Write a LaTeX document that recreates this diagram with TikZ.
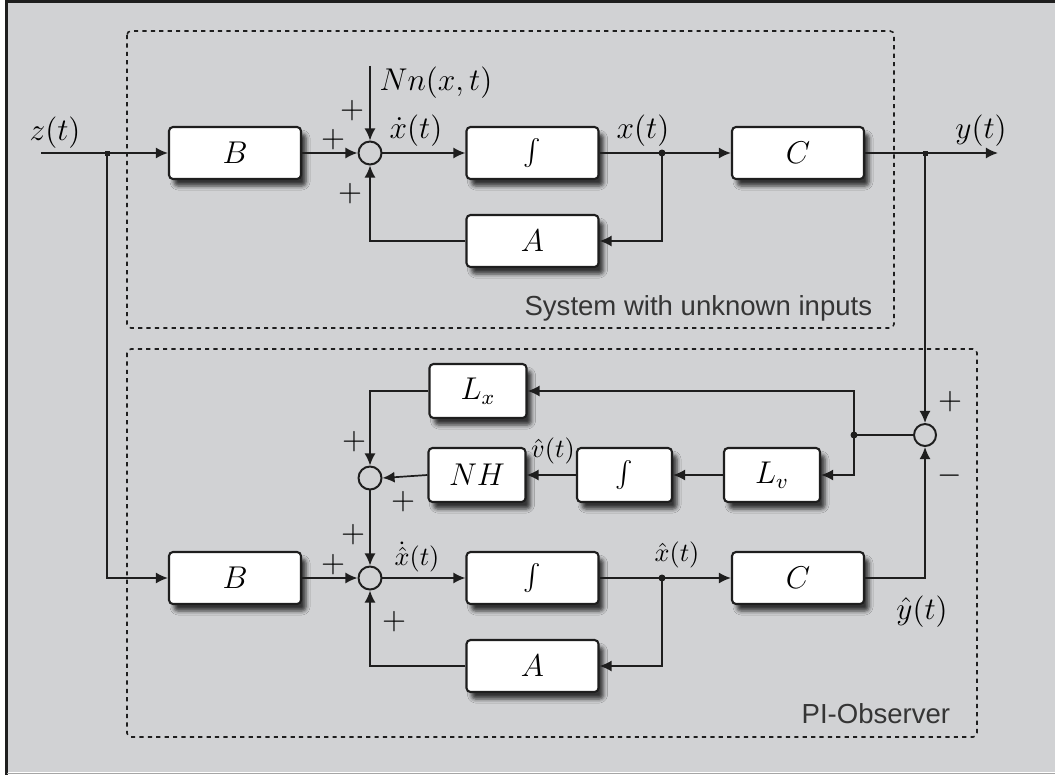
\documentclass[tikz,border=0pt]{standalone}
\usepackage{fontspec}
\newfontfamily\labelfont{Liberation Sans}
\usetikzlibrary{arrows.meta,shadows.blur}
\newlength{\pxu}\setlength{\pxu}{0.0134cm}
\definecolor{bggray}{HTML}{D1D2D4}
\definecolor{ink}{HTML}{1E1E1E}
\begin{document}
\begin{tikzpicture}[x=0.0134cm,y=-0.0134cm,
  font=\fontsize{11.5}{13}\selectfont,
  line width=0.65pt, draw=ink,
  >={Latex[length=4.6pt,width=4.2pt]},
  blk/.style={draw=ink, fill=white, rounded corners=4\pxu, line width=0.8pt,
     minimum height=52\pxu, inner sep=0pt,
     blur shadow={shadow xshift=5\pxu, shadow yshift=-7\pxu, shadow blur radius=4\pxu, shadow opacity=75}},
  wide/.style={blk, minimum width=132\pxu},
  nar/.style={blk, minimum width=97\pxu, minimum height=54\pxu},
  sumc/.style={draw=ink, circle, fill=none, minimum size=23\pxu, inner sep=0pt, line width=0.75pt},
  sq/.style={fill=ink, inner sep=0pt, minimum size=5\pxu, rectangle},
  dot/.style={fill=ink, circle, inner sep=0pt, minimum size=7\pxu},
  grp/.style={draw=ink, dash pattern=on 1.6pt off 1.6pt, line width=0.6pt, rounded corners=4\pxu},
  sgn/.style={inner sep=0pt},
  lbl/.style={inner sep=0pt},
  grplabel/.style={anchor=base east, inner sep=0pt, text=ink!90, font=\labelfont\fontsize{10.5}{12}\selectfont}
]
\useasboundingbox (0,0) rectangle (1055,775);
\fill[white] (0,0) rectangle (1055,775);
\fill[bggray] (7,2) rectangle (1055,772);
\draw[line width=1.2pt, ink] (6.5,0) -- (6.5,775);
\draw[line width=1.4pt, ink] (6,1.5) -- (1055,1.5);
\draw[line width=0.4pt, gray!70] (7,773.5) -- (1055,773.5);

% group boxes
\draw[grp] (127,31) rectangle (894,328);
\draw[grp] (127,349) rectangle (977,737);
\node[grplabel] (sysl) at (873,315) {System with unknown inputs};
\node[grplabel] (obsl) at (951,723) {PI-Observer};

% top system
\node[wide] (B1) at (235,153) {$B$};
\node[sumc] (S1) at (370,153) {};
\node[wide] (I1) at (532.5,153) {$\int$};
\node[wide] (C1) at (798,153) {$C$};
\node[wide] (A1) at (532.5,241) {$A$};
\coordinate (zin) at (41,153);
\node[sq] (jz) at (107,153) {};
\node[dot] (jx) at (662,153) {};
\node[sq] (jy) at (925,153) {};
\coordinate (yout) at (998,153);
\coordinate (nin) at (370,66);

\draw[->] (zin) -- (B1.west);
\draw[->] (B1.east) -- (S1.west);
\draw[->] (S1.east) -- (I1.west);
\draw[->] (I1.east) -- (C1.west);
\draw[->] (jx.center) |- (A1.east);
\draw[->] (A1.west) -| (S1.south);
\draw[->] (nin) -- (S1.north);
\draw[->] (C1.east) -- (yout);

\node[lbl] (lz) at (55,133) {$z(t)$};
\node[lbl] (lnn) at (436,83) {$Nn(x,t)$};
\node[lbl] (lxd) at (416,131) {$\dot{x}(t)$};
\node[lbl] (lx) at (643,131) {$x(t)$};
\node[lbl] (ly) at (981,131) {$y(t)$};
\node[sgn] (p1) at (352,111) {$+$};
\node[sgn] (p2) at (333,140) {$+$};
\node[sgn] (p3) at (350,194) {$+$};

% observer
\node[nar] (Lx) at (478,391) {$L_x$};
\node[nar] (NH) at (477,475) {$NH$};
\node[nar, minimum width=95\pxu] (I2) at (624.5,475) {$\int$};
\node[nar, minimum width=96\pxu] (Lv) at (772,475) {$L_v$};
\node[sumc] (S2) at (370,478) {};
\node[sumc] (S3) at (370,578) {};
\node[sumc, minimum size=22\pxu] (S4) at (925,435) {};
\node[wide] (B2) at (235,578) {$B$};
\node[wide] (I3) at (532.5,578) {$\int$};
\node[wide] (C2) at (798,578) {$C$};
\node[wide] (A2) at (532.5,666) {$A$};
\node[dot] (jv) at (854,435) {};
\node[dot] (jxh) at (662,578) {};

\draw[->] (jz.center) |- (B2.west);
\draw[->] (B2.east) -- (S3.west);
\draw[->] (S3.east) -- (I3.west);
\draw[->] (I3.east) -- (C2.west);
\draw[->] (jxh.center) |- (A2.east);
\draw[->] (A2.west) -| (S3.south);
\draw[->] (C2.east) -| (S4.south);
\draw[->] (jy.center) -- (S4.north);
\draw (S4.west) -- (jv.center);
\draw[->] (jv.center) |- (Lx.east);
\draw[->] (jv.center) |- (Lv.east);
\draw[->] (Lv.west) -- (I2.east);
\draw[->] (I2.west) -- (NH.east);
\draw[->] (NH.west) -- (S2.east);
\draw[->] (Lx.west) -| (S2.north);
\draw[->] (S2.south) -- (S3.north);

\node[lbl, font=\fontsize{10}{12}\selectfont] (lvh) at (553,451) {$\hat{v}(t)$};
\node[lbl, font=\fontsize{10}{12}\selectfont] (lxhd) at (417,557) {$\dot{\hat{x}}(t)$};
\node[lbl, font=\fontsize{10}{12}\selectfont] (lxh) at (677,555) {$\hat{x}(t)$};
\node[lbl] (lyh) at (922,612) {$\hat{y}(t)$};
\node[sgn] (q1) at (354,442) {$+$};
\node[sgn] (q2) at (403,502) {$+$};
\node[sgn] (q3) at (353,535) {$+$};
\node[sgn] (q4) at (333,565) {$+$};
\node[sgn] (q5) at (394,622) {$+$};
\node[sgn] (q6) at (950,402) {$+$};
\node[sgn] (q7) at (950,476) {$-$};
\end{tikzpicture}
\end{document}
